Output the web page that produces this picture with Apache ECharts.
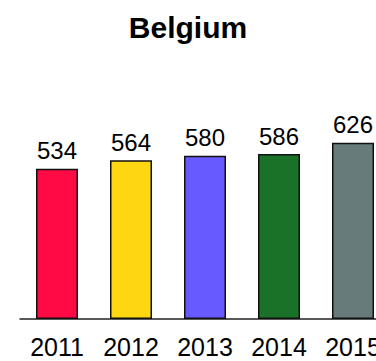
<!DOCTYPE html>
<html>
<head>
<meta charset="utf-8">
<script src="https://cdn.jsdelivr.net/npm/echarts@6/dist/echarts.min.js"></script>
<style>
  html, body { margin: 0; padding: 0; background: #fff; }
  #chart { width: 376px; height: 361px; }
</style>
</head>
<body>
<div id="chart"></div>
<script>
var years = ['2011', '2012', '2013', '2014', '2015'];
var values = [534, 564, 580, 586, 626];
var colors = ['#ff0a45', '#ffd612', '#675aff', '#1a7128', '#687b7b'];

var font = '"Liberation Sans", Arial, sans-serif';
var chart = echarts.init(document.getElementById('chart'), null, { renderer: 'svg' });
chart.setOption({
  animation: false,
  title: {
    text: 'Belgium',
    left: 'center',
    top: 7,
    textStyle: { fontFamily: font, fontSize: 30, fontWeight: 'bold', color: '#000' }
  },
  // the last category runs past the right edge, as in the reference
  grid: { left: 20, top: 122, width: 370, bottom: 42, outerBoundsMode: 'none', containLabel: false },
  xAxis: {
    type: 'category',
    data: years,
    axisLine: { lineStyle: { color: '#222', width: 1.5 } },
    axisTick: { show: false },
    axisLabel: { fontFamily: font, fontSize: 25, color: '#000', margin: 15, interval: 0 }
  },
  yAxis: {
    type: 'value',
    min: 0,
    max: 700,
    show: false,
    splitLine: { show: false }
  },
  series: [{
    type: 'bar',
    barWidth: 42,
    data: values.map(function(v, i) {
      return { value: v, itemStyle: { color: colors[i] } };
    }),
    itemStyle: { borderColor: '#111', borderWidth: 1.5 },
    label: {
      show: true,
      position: 'top',
      distance: 6,
      fontFamily: font,
      fontSize: 24,
      color: '#000'
    }
  }]
});
</script>
</body>
</html>
